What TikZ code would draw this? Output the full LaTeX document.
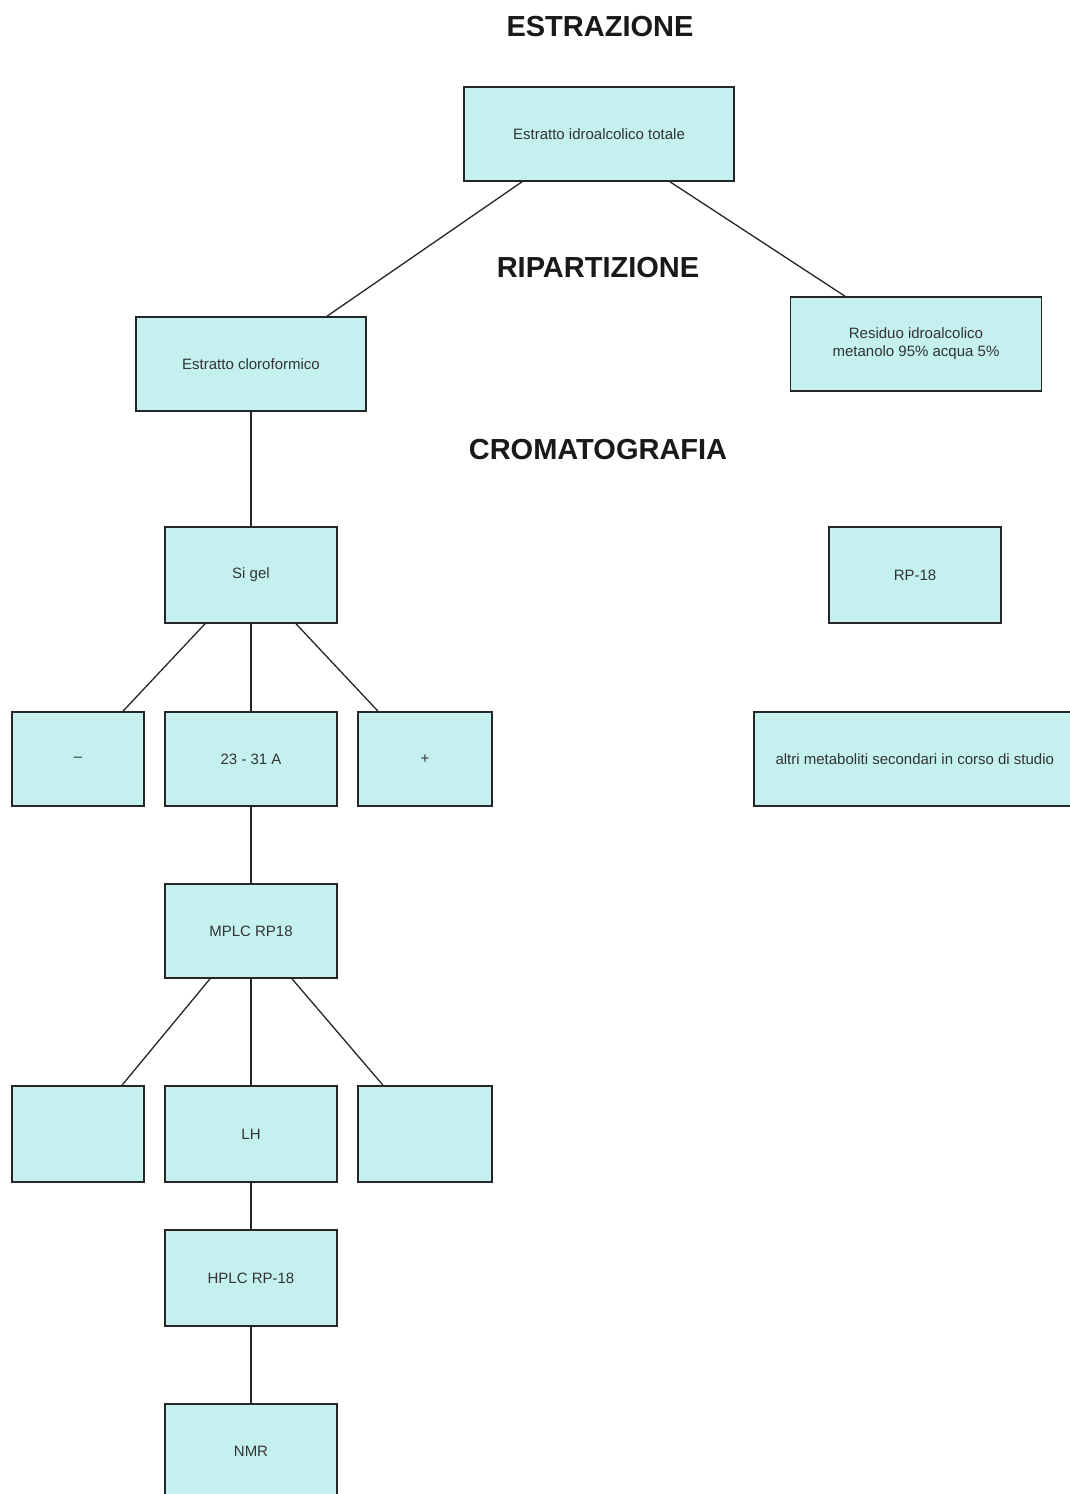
\documentclass[tikz,border=0pt]{standalone}
\usepackage{fontspec}
\setmainfont{Liberation Sans}
\begin{document}
\begin{tikzpicture}[x=1pt,y=-1pt,
  box/.style={draw=black!85, line width=1.6pt, fill=boxfill, inner sep=2pt,
    align=center, font=\fontsize{15}{18}\selectfont, text=black!80},
  heading/.style={font=\fontsize{29}{32}\selectfont\bfseries, text=black!90},
  link/.style={draw=black!85, line width=1.3pt}]
\definecolor{boxfill}{HTML}{C4F1EF}
\fill[white] (0,0) rectangle (1070,1494);
\useasboundingbox (0,0) rectangle (1070,1494);

\node[heading] (h1) at (600,27) {ESTRAZIONE};
\node[heading] (h2) at (598,268) {RIPARTIZIONE};
\node[heading] (h3) at (598,450) {CROMATOGRAFIA};

\node[box, minimum width=270, minimum height=94] (estr) at (599,134) {Estratto idroalcolico totale};
\node[box, minimum width=230, minimum height=94] (cloro) at (251,364) {Estratto cloroformico};
\node[box, minimum width=251, minimum height=94] (resid) at (916,344) {Residuo idroalcolico\\metanolo 95\% acqua 5\%};

\node[box, minimum width=172, minimum height=96] (sigel) at (251,575) {Si gel};
\node[box, minimum width=172, minimum height=96] (rp) at (915,575) {RP-18};

\node[box, minimum width=132, minimum height=94] (a1) at (78,759) {--};
\node[box, minimum width=172, minimum height=94] (a2) at (251,759) {23 - 31 A};
\node[box, minimum width=134, minimum height=94] (a3) at (425,759) {+};

\node[box, minimum width=322, minimum height=94, anchor=west] (altri) at (753,759) {altri metaboliti secondari in corso di studio};

\node[box, minimum width=172, minimum height=94] (mplc) at (251,931) {MPLC RP18};

\node[box, minimum width=132, minimum height=96] (b1) at (78,1134) {};
\node[box, minimum width=172, minimum height=96] (b2) at (251,1134) {LH};
\node[box, minimum width=134, minimum height=96] (b3) at (425,1134) {};

\node[box, minimum width=172, minimum height=96] (hplc) at (251,1278) {HPLC RP-18};
\node[box, minimum width=172, minimum height=94] (nmr) at (251,1451) {NMR};

\draw[link] ([xshift=-77pt]estr.south) -- ([xshift=76pt]cloro.north);
\draw[link] ([xshift=71pt]estr.south) -- ([xshift=-71pt]resid.north);
\draw[link] (cloro.south) -- (sigel.north);
\draw[link] ([xshift=-46pt]sigel.south) -- ([xshift=45pt]a1.north);
\draw[link] (sigel.south) -- (a2.north);
\draw[link] ([xshift=45pt]sigel.south) -- ([xshift=-47pt]a3.north);
\draw[link] (a2.south) -- (mplc.north);
\draw[link] ([xshift=-41pt]mplc.south) -- ([xshift=44pt]b1.north);
\draw[link] (mplc.south) -- (b2.north);
\draw[link] ([xshift=41pt]mplc.south) -- ([xshift=-42pt]b3.north);
\draw[link] (b2.south) -- (hplc.north);
\draw[link] (hplc.south) -- (nmr.north);
\end{tikzpicture}
\end{document}
